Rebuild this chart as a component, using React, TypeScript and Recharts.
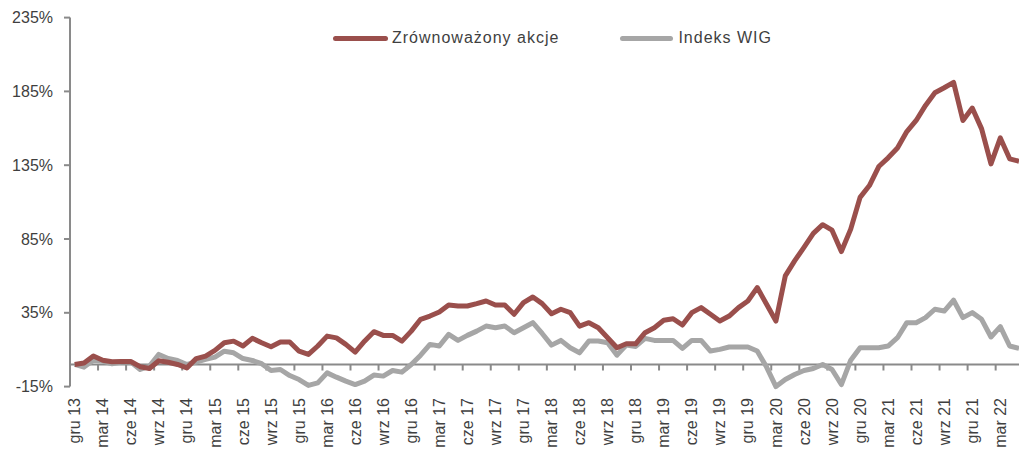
import { LineChart, Line, XAxis, YAxis, ReferenceLine } from "recharts";

const MONTH_NAMES = ["sty", "lut", "mar", "kwi", "maj", "cze", "lip", "sie", "wrz", "paź", "lis", "gru"];

// monthly points, gru 13 .. maj 22
const months = Array.from({ length: 102 }, (_, i) => {
  const m = (11 + i) % 12;
  const yr = 13 + Math.floor((11 + i) / 12);
  return `${MONTH_NAMES[m]} ${yr}`;
});

const zrownowazony = [
  0, 1, 5.7, 2.9, 1.8, 2, 2, -1.5, -2.7, 2.5, 1.5, 0,
  -2.3, 4, 5.7, 9.5, 14.7, 15.8, 12.5, 17.7, 14.7, 12, 15.2, 15.2,
  9, 6.8, 12.5, 19.2, 18, 13.6, 8.4, 15.8, 22.2, 19.7, 19.7, 15.8,
  22.6, 30.6, 32.8, 35.6, 40.3, 39.6, 39.6, 41.2, 43, 40.3, 40.3, 34,
  41.9, 45.7, 41.2, 34.4, 37.4, 35.1, 26, 28.3, 24.9, 18.1, 11.3, 14,
  14, 21.5, 24.9, 29.9, 31, 26.7, 35.1, 38.5, 34, 29.4, 32.8, 38.5,
  43, 52.1, 40.8, 29.4, 60, 70.2, 79.3, 88.8, 94.7, 91, 76.5, 91.7,
  113.2, 121.2, 134.1, 140, 146.7, 157.8, 165.3, 175.5, 184.1, 187.5, 191.1, 165.3,
  173.7, 159.6, 135.9, 153.5, 139.3, 137.7,
];

const wig = [
  0, -1.8, 2.9, 2.3, 0.5, 1.6, 1.6, -3.4, -1.1, 6.8, 4, 2.7,
  0, 1.6, 3.4, 5, 9, 7.9, 4, 2.7, 0.5, -4.1, -3.4, -7.5,
  -10.2, -14.2, -12.5, -5.7, -8.6, -11.3, -13.6, -11.3, -7.2, -7.9, -4.1, -5.2,
  0, 6.3, 13.6, 12.5, 20.4, 16.3, 19.7, 22.6, 26, 24.9, 26, 21.5,
  24.9, 28.3, 21, 13.1, 16.3, 11.3, 7.9, 15.9, 15.9, 14.7, 6.3, 13.1,
  12.2, 17.7, 16.3, 16.3, 16.3, 10.9, 16.3, 16.3, 9.1, 10.2, 11.8, 11.8,
  11.8, 9.1, -1.8, -15, -10.2, -6.8, -4.1, -2.7, 0, -3.4, -13.6, 2.9,
  11.3, 11.3, 11.3, 12.5, 18.1, 28.3, 28.3, 31.7, 37.4, 36.2, 43.5, 31.7,
  35.1, 30.6, 18.6, 25.6, 12.5, 10.9,
];

const yTicks = [-15, 35, 85, 135, 185, 235];
const labelTicks = months.map((_, i) => i).filter((i) => i % 3 === 0);
const bandEdges = months.map((_, i) => i + 2.5).filter((_, i) => i % 3 === 0);

const data = months.map((m, i) => ({ i, month: m, fund: zrownowazony[i], wig: wig[i] }));

const RED = "#9A4F4C";
const GRAY = "#A6A6A6";
const AXIS = "#8A8A8A";
const TEXT = "#3F3F3F";

function MonthTick(props: any) {
  const { x, y, payload } = props;
  const ty = y + 11.4;
  return (
    <text x={x} y={ty} transform={`rotate(-90, ${x}, ${ty})`} textAnchor="end" dy="0.35em" fill={TEXT} fontSize={16}>
      {months[payload.value]}
    </text>
  );
}

export default function App() {
  return (
    <div style={{ position: "absolute", left: 0, top: 0, width: 1019, height: 454, overflow: "hidden", background: "#fff",
      fontFamily: "'Liberation Sans', Arial, sans-serif" }}>
      <LineChart width={1026} height={454} data={data} margin={{ top: 17.6, right: 2.3, left: 0, bottom: 0 }}>
        <XAxis dataKey="i" type="number" domain={[-0.5, 101.5]} ticks={labelTicks} interval={0}
          axisLine={false} tickLine={false} tickSize={0} tickMargin={0} height={67.4} tick={<MonthTick />} />
        <YAxis domain={[-15, 235]} ticks={yTicks} interval={0} width={70} tickFormatter={(v) => `${v}%`}
          axisLine={{ stroke: AXIS, strokeWidth: 2 }} tickLine={{ stroke: AXIS, strokeWidth: 2 }} tickSize={6} tickMargin={11}
          tick={{ fill: TEXT, fontSize: 16 }} />
        <ReferenceLine y={0} stroke={AXIS} strokeWidth={2} />
        {bandEdges.map((b) => (
          <ReferenceLine key={b} segment={[{ x: b, y: 0 }, { x: b, y: -4.1 }]} stroke={AXIS} strokeWidth={2} />
        ))}
        <Line dataKey="wig" stroke={GRAY} strokeWidth={5} dot={false} isAnimationActive={false} strokeLinejoin="round" />
        <Line dataKey="fund" stroke={RED} strokeWidth={5} dot={false} isAnimationActive={false} strokeLinejoin="round" />
      </LineChart>
      <div style={{ position: "absolute", left: 333, top: 29, display: "flex", alignItems: "center", fontSize: 16, color: TEXT, letterSpacing: 1 }}>
        <span style={{ width: 55, height: 5, borderRadius: 3, background: RED, marginRight: 4 }} />
        <span>Zrównoważony akcje</span>
        <span style={{ width: 53, height: 5, borderRadius: 3, background: GRAY, marginLeft: 61, marginRight: 5 }} />
        <span>Indeks WIG</span>
      </div>
    </div>
  );
}
